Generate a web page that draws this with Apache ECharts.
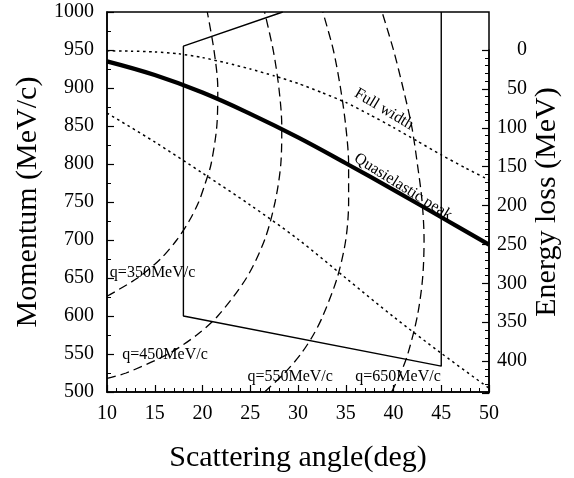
<!DOCTYPE html>
<html><head><meta charset="utf-8">
<script src="https://cdn.jsdelivr.net/npm/echarts@6/dist/echarts.min.js"></script>
<style>html,body{margin:0;padding:0;background:#fff}#c{width:574px;height:478px}</style>
</head><body><div id="c"></div>
<script>
// ---- data (scattering angle in deg, momentum in MeV/c) ----
const qePeakDeg = [10, 15, 20, 25, 30, 35, 40, 45, 50];
const qePeakMom = [935, 917, 894, 866, 835, 801, 766, 730, 694];
const fwUpperDeg = [10, 12.5, 15, 17.5, 20, 22.5, 25, 27.5, 30, 32.5, 35, 37.5, 40, 42.5, 45, 47.5, 50];
const fwUpperMom = [949, 948.5, 947.5, 945, 940, 933, 925, 916, 906, 894, 881, 865, 848, 830, 812, 795, 779];
const fwLowerDeg = [10, 15, 20, 25, 30, 35, 40, 45, 50];
const fwLowerMom = [867, 829, 788, 746, 701, 650, 599, 551, 505];
const q350Mom = [626, 650, 675, 700, 725, 750, 775, 800, 850, 900, 950, 1000];
const q350Deg = [10.0, 13.2, 15.6, 17.3, 18.6, 19.6, 20.3, 20.9, 21.5, 21.6, 21.2, 20.5];
const q450Mom = [518, 525, 550, 575, 600, 650, 700, 750, 800, 850, 900, 950, 1000];
const q450Deg = [10.0, 12.0, 16.4, 19.4, 21.6, 24.6, 26.5, 27.6, 28.2, 28.3, 28.0, 27.4, 26.5];
const q550Mom = [500, 525, 550, 575, 600, 650, 700, 750, 800, 850, 900, 950, 1000];
const q550Deg = [26.5, 28.6, 30.3, 31.6, 32.6, 34.1, 35.0, 35.3, 35.3, 35.0, 34.45, 33.7, 32.6];
const q650Mom = [500, 525, 550, 600, 650, 700, 750, 800, 850, 900, 950, 1000];
const q650Deg = [39.8, 40.75, 41.5, 42.5, 43.05, 43.2, 43.0, 42.5, 41.9, 41.0, 40.0, 38.8];
const acceptDeg = [28.4, 18, 18, 45, 45];
const acceptMom = [1000, 955, 600, 534, 1000];

// annotations: [text, deg, momentum, align, rotationDeg]
const notes = [
  ['q=350MeV/c', 10.3, 657, 'left', 0],
  ['q=450MeV/c', 11.6, 549, 'left', 0],
  ['q=550MeV/c', 24.7, 520, 'left', 0],
  ['q=650MeV/c', 36.0, 520, 'left', 0],
  ['Full width', 39.0, 872, 'center', -31],
  ['Quasielastic peak', 41.0, 770, 'center', -32]
];

const zip = (xs, ys) => xs.map((x, i) => [x, ys[i]]);
const FONT = 'Liberation Serif';
const chart = echarts.init(document.getElementById('c'), null, {renderer: 'canvas'});

const tickLbl = {color: '#000', fontFamily: FONT, fontSize: 20};
const titleStyle = {color: '#000', fontFamily: FONT, fontSize: 30};
const dashed = {color: '#000', width: 1.3, type: [9, 5]};
const dotted = {color: '#000', width: 1.5, type: [2.5, 3.5]};
function line(data, style, smooth) {
  return {type: 'line', xAxisIndex: 0, yAxisIndex: 0, data: data, showSymbol: false,
    symbol: 'none', smooth: smooth, lineStyle: style, silent: true, z: 3};
}

const option = {
  animation: false,
  backgroundColor: '#fff',
  grid: [
    {left: 107, right: 85, top: 12, bottom: 85, show: true, borderColor: '#000', borderWidth: 1.5, backgroundColor: 'transparent'},
    {left: 107, right: 85, top: 50, bottom: 85, show: false}
  ],
  xAxis: [
    {gridIndex: 0, type: 'value', min: 10, max: 50, interval: 5,
     axisLine: {show: true, lineStyle: {color: '#000', width: 1.5}},
     axisTick: {show: true, inside: true, length: 7, lineStyle: {color: '#000', width: 1.2}},
     minorTick: {show: true, splitNumber: 5, length: 4, lineStyle: {color: '#000', width: 1}},
     splitLine: {show: false}, minorSplitLine: {show: false},
     axisLabel: Object.assign({margin: 12, formatter: v => String(v)}, tickLbl),
     name: 'Scattering angle(deg)', nameLocation: 'middle', nameGap: 51,
     nameTextStyle: titleStyle},
    {gridIndex: 1, type: 'value', min: 10, max: 50, show: false}
  ],
  yAxis: [
    {gridIndex: 0, type: 'value', min: 500, max: 1000, interval: 50, position: 'left',
     axisLine: {show: true, lineStyle: {color: '#000', width: 1.5}},
     axisTick: {show: true, inside: true, length: 7, lineStyle: {color: '#000', width: 1.2}},
     minorTick: {show: true, splitNumber: 2, length: 4, lineStyle: {color: '#000', width: 1}},
     splitLine: {show: false},
     axisLabel: Object.assign({margin: 13, formatter: v => String(v)}, tickLbl),
     name: 'Momentum (MeV/c)', nameLocation: 'middle', nameGap: 62,
     nameTextStyle: titleStyle},
    {gridIndex: 1, type: 'value', min: 0, max: 441, interval: 50, inverse: true, position: 'right',
     axisLine: {show: true, lineStyle: {color: '#000', width: 1.5}},
     axisTick: {show: true, inside: true, length: 7, lineStyle: {color: '#000', width: 1.2}},
     minorTick: {show: true, splitNumber: 5, length: 4, lineStyle: {color: '#000', width: 1}},
     splitLine: {show: false},
     axisLabel: Object.assign({margin: 38, align: 'right', showMaxLabel: false,
       formatter: v => (v > 400 ? '' : String(v))}, tickLbl)},
    {gridIndex: 0, type: 'value', min: 0, max: 1, position: 'right',
     axisLine: {show: false}, axisTick: {show: false}, axisLabel: {show: false}, splitLine: {show: false},
     name: 'Energy loss (MeV)', nameLocation: 'middle', nameGap: 43, nameRotate: 90,
     nameTextStyle: titleStyle}
  ],
  series: [
    line(zip(fwUpperDeg, fwUpperMom), dotted, 0.2),
    line(zip(fwLowerDeg, fwLowerMom), dotted, 0.3),
    line(zip(q350Deg, q350Mom), dashed, 0.3),
    line(zip(q450Deg, q450Mom), dashed, 0.3),
    line(zip(q550Deg, q550Mom), dashed, 0.3),
    line(zip(q650Deg, q650Mom), dashed, 0.3),
    line(zip(acceptDeg, acceptMom), {color: '#000', width: 1.4, type: 'solid'}, false),
    line(zip(qePeakDeg, qePeakMom), {color: '#000', width: 4.2, type: 'solid'}, 0.4)
  ]
};
chart.setOption(option);

const graphics = notes.map(n => {
  const p = chart.convertToPixel({xAxisIndex: 0, yAxisIndex: 0}, [n[1], n[2]]);
  return {type: 'text', x: p[0], y: p[1], rotation: n[4] * Math.PI / 180, z: 10,
    style: {text: n[0], fill: '#000', font: '16px "' + FONT + '"', align: n[3], verticalAlign: 'middle'}};
});
chart.setOption({graphic: graphics});
</script>
</body></html>
